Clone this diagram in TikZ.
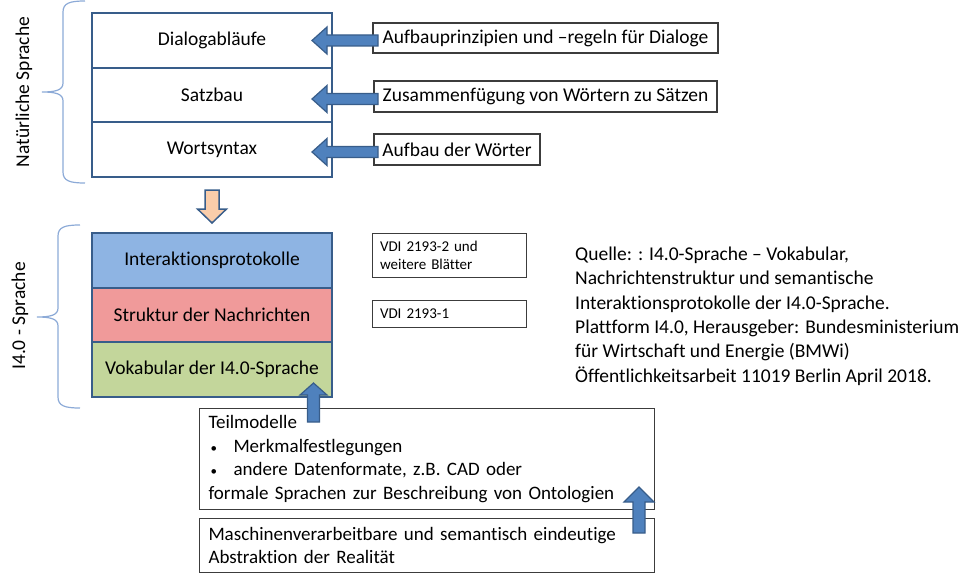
\documentclass[tikz,border=0pt]{standalone}
\usepackage{fontspec}
\setmainfont{Carlito}[Ligatures=NoCommon]
\usetikzlibrary{calc}
\definecolor{dkblue}{RGB}{56,93,138}
\definecolor{arrblue}{RGB}{79,129,189}
\definecolor{rowblue}{RGB}{142,180,227}
\definecolor{rowred}{RGB}{240,154,154}
\definecolor{rowgreen}{RGB}{195,214,155}
\definecolor{peach}{RGB}{250,205,170}
\definecolor{bracecol}{RGB}{140,170,215}
\definecolor{boxgray}{RGB}{60,60,60}
\newcommand{\smallbullet}{\makebox[25pt][l]{\hspace{2pt}{\fontsize{13}{13}\selectfont•}}}
\begin{document}
\begin{tikzpicture}[x=1pt,y=-1pt,
  mainfont/.style={font=\fontsize{19.5}{23.5}\selectfont},
  rowbox/.style={draw=dkblue, line width=2pt, minimum width=240pt, minimum height=54.67pt, inner sep=0pt, mainfont},
  notebox/.style={draw=boxgray, line width=1.2pt, inner sep=0pt, mainfont},
  smallbox/.style={draw=boxgray, line width=1pt, inner xsep=8pt, inner ysep=0pt, text width=138pt, align=left, font=\fontsize{15}{18}\selectfont},
  bigbox/.style={draw=boxgray, line width=1pt, inner xsep=9pt, inner ysep=0pt, text width=437pt, align=left, font=\fontsize{19}{23.5}\selectfont},
  barrow/.style={draw=dkblue, line width=1.2pt, fill=arrblue, line join=miter},
  parrow/.style={draw=dkblue, line width=1.5pt, fill=peach, line join=miter},
  bracestyle/.style={draw=bracecol, line width=1.2pt},
  sidelabel/.style={rotate=90, mainfont, inner sep=0pt}
]
\useasboundingbox (0,0) rectangle (973,580);

% braces
\draw[bracestyle] (85,1) .. controls (70,1) and (63,3) .. (63,12) -- (63,83)
  .. controls (63,90) and (56,92) .. (42,92)
  .. controls (56,92) and (63,94) .. (63,101) -- (63,172)
  .. controls (63,181) and (70,183) .. (85,183);
\draw[bracestyle] (80,225) .. controls (65,225) and (58,227) .. (58,236) -- (58,308)
  .. controls (58,315) and (51,317) .. (37,317)
  .. controls (51,317) and (58,319) .. (58,326) -- (58,397)
  .. controls (58,406) and (65,408) .. (80,408);
\node[sidelabel] (lblN) at (24,92) {Natürliche Sprache};
\node[sidelabel] (lblI) at (20,316) {I4.0 - Sprache};

% natural language stack
\node[rowbox, fill=white] (d1) at (212,40.33) {Dialogabläufe};
\node[rowbox, fill=white] (d2) at (212,95) {Satzbau};
\node[rowbox, fill=white] (d3) at (212,149.67) {Wortsyntax};

% right notes
\node[notebox, minimum width=345pt, minimum height=30pt] (r1) at (545.5,38) {Aufbauprinzipien und –regeln für Dialoge};
\node[notebox, minimum width=343pt, minimum height=31pt] (r2) at (545.5,96.5) {Zusammenfügung von Wörtern zu Sätzen};
\node[notebox, minimum width=166pt, minimum height=31pt] (r3) at (457,149.5) {Aufbau der Wörter};

% left block arrows
\coordinate (t1) at (312,40.5);
\coordinate (t2) at (312,99);
\coordinate (t3) at (312,152);
\foreach \t in {t1,t2,t3}{
  \draw[barrow] (\t) -- ++(15,-13.5) -- ++(0,8) -- ++(51,0) -- ++(0,11) -- ++(-51,0) -- ++(0,8) -- cycle;
}

% down arrow
\coordinate (dtip) at (212,223);
\draw[parrow] (dtip) -- ++(-14.5,-14) -- ++(7.5,0) -- ++(0,-19) -- ++(14,0) -- ++(0,19) -- ++(7.5,0) -- cycle;

% I4.0 stack
\node[rowbox, fill=rowblue] (i1) at (212,260.33) {Interaktionsprotokolle};
\node[rowbox, fill=rowred] (i2) at (212,315) {Struktur der Nachrichten};
\node[rowbox, fill=rowgreen] (i3) at (212,369.67) {Vokabular der I4.0-Sprache};

% VDI boxes
\node[smallbox, minimum height=44pt] (v1) at (449,255) {VDI 2193-2 und\\weitere Blätter};
\node[smallbox, minimum height=27pt] (v2) at (449,313.5) {VDI 2193-1};

% source text
\node[anchor=west, align=left, inner sep=0pt, font=\fontsize{19.5}{24.4}\selectfont] (src) at (575,316)
 {Quelle: : I4.0-Sprache – Vokabular,\\Nachrichtenstruktur und semantische\\Interaktionsprotokolle der I4.0-Sprache.\\Plattform I4.0, Herausgeber: Bundesministerium\\für Wirtschaft und Energie (BMWi)\\Öffentlichkeitsarbeit 11019 Berlin April 2018.};

% bottom boxes
\node[bigbox, minimum height=101pt, anchor=north west] (b1) at (199,408)
 {Teilmodelle\\\smallbullet Merkmalfestlegungen\\\smallbullet andere Datenformate, z.B. CAD oder\\formale Sprachen zur Beschreibung von Ontologien};
\node[bigbox, minimum height=54pt, anchor=north west] (b2) at (199,518)
 {Maschinenverarbeitbare und semantisch eindeutige\\Abstraktion der Realität};

% up arrows
\coordinate (u1) at (313.5,383);
\draw[barrow] (u1) -- ++(13.5,12) -- ++(-7.5,0) -- ++(0,27) -- ++(-12,0) -- ++(0,-27) -- ++(-7.5,0) -- cycle;
\coordinate (u2) at (639,487);
\draw[barrow] (u2) -- ++(15,15) -- ++(-9,0) -- ++(0,31) -- ++(-12,0) -- ++(0,-31) -- ++(-9,0) -- cycle;
\end{tikzpicture}
\end{document}
